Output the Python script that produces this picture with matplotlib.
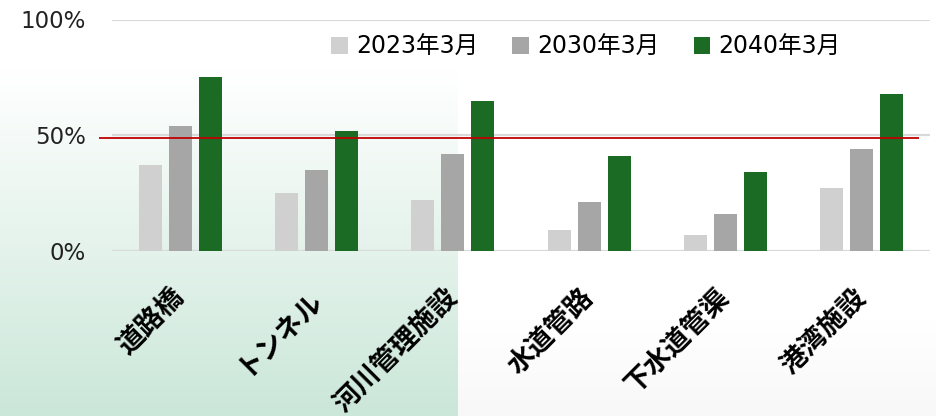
import numpy as np
import matplotlib.pyplot as plt
from matplotlib.colors import to_rgb

plt.rcParams['font.family'] = ['DejaVu Sans', 'Noto Sans CJK JP']

categories = ['道路橋', 'トンネル', '河川管理施設', '水道管路', '下水道管渠', '港湾施設']
series_names = ['2023年3月', '2030年3月', '2040年3月']
v2023 = [0.37, 0.25, 0.22, 0.09, 0.07, 0.27]
v2030 = [0.54, 0.35, 0.42, 0.21, 0.16, 0.44]
v2040 = [0.75, 0.52, 0.65, 0.41, 0.34, 0.68]
ref_level = 0.489
yticks = [0, 0.5, 1.0]
ytick_labels = ['0%', '50%', '100%']

colors = ['#d0d0d0', '#a6a6a6', '#1b6b24']

fig = plt.figure(figsize=(9.36, 4.16), dpi=100)

# background gradients (green panel on the left, faint grey on the right)
bg = fig.add_axes([0, 0, 1, 1], zorder=-1)
bg.set_xlim(0, 936)
bg.set_ylim(416, 0)
bg.axis('off')
ys = np.linspace(0, 416, 200)
t_green = np.clip((ys - 70) / (416 - 70), 0, 1)[:, None]
white = np.array([1.0, 1.0, 1.0])
green = np.array(to_rgb('#cbe7d9'))
img_g = (white * (1 - t_green) + green * t_green)[:, None, :]
bg.imshow(img_g, extent=[0, 458, 416, 0], aspect='auto')
t_grey = np.clip((ys - 320) / (416 - 320), 0, 1)[:, None]
grey = np.array(to_rgb('#f8f8f8'))
img_r = (white * (1 - t_grey) + grey * t_grey)[:, None, :]
bg.imshow(img_r, extent=[458, 936, 416, 0], aspect='auto')

ax = fig.add_axes([112 / 936, (416 - 251) / 416, 818 / 936, 231.5 / 416])
ax.set_facecolor('none')

x = np.arange(len(categories))
offsets = [-0.22, 0.0, 0.22]
for vals, off, c, name in zip([v2023, v2030, v2040], offsets, colors, series_names):
    ax.bar(x + off, vals, width=0.17, color=c, label=name, zorder=3)

ax.set_xlim(-0.5, len(categories) - 0.5)
ax.set_ylim(0, 1.0)
ax.set_yticks(yticks)
ax.set_yticklabels(ytick_labels, fontsize=16.5, color='#222222')
ax.grid(axis='y', color='#d9d9d9', linewidth=1.6, zorder=0)
ax.tick_params(axis='y', length=0, pad=19)
for s in ax.spines.values():
    s.set_visible(False)

ax.hlines(ref_level, -0.595, 5.42, color='#c00000', linewidth=1.3, zorder=4, clip_on=False)

ax.set_xticks(x)
ax.set_xticklabels(categories, rotation=45, ha='right', va='center',
                   rotation_mode='anchor', fontsize=19.5, fontweight='bold',
                   family=['Noto Sans CJK JP', 'DejaVu Sans'])
ax.tick_params(axis='x', length=0, pad=30)

fig.legend(loc='center', bbox_to_anchor=(0.626, 0.887), ncol=3, frameon=False,
           fontsize=17, handlelength=0.7, handleheight=0.7, handletextpad=0.35,
           columnspacing=1.45)

fig.savefig('out.png', dpi=100)
